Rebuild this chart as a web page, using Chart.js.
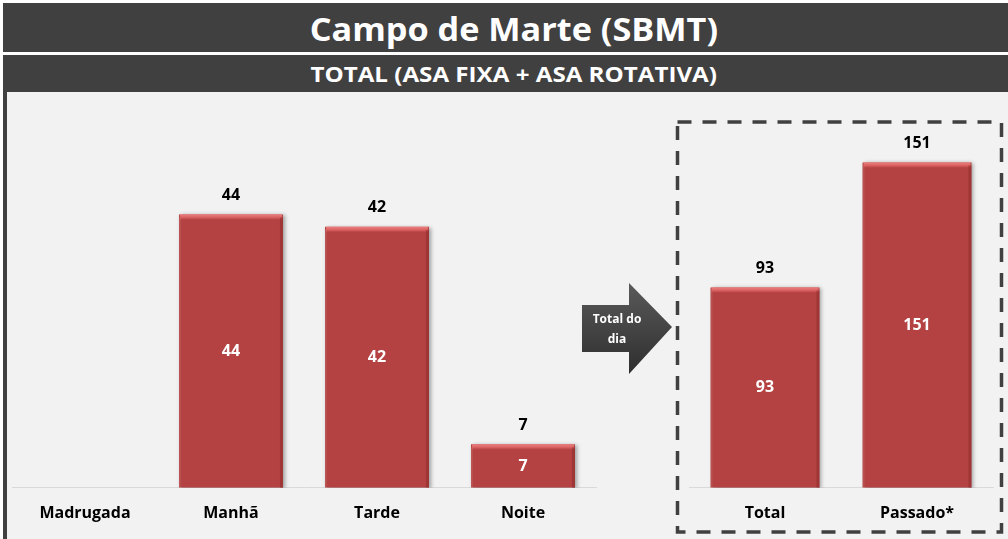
<!DOCTYPE html>
<html>
<head>
<meta charset="utf-8">
<script src="https://cdn.jsdelivr.net/npm/chart.js@4.4.0/dist/chart.umd.min.js"></script>
<style>
  body { margin: 0; background: #ffffff; width: 1008px; height: 539px; overflow: hidden; position: relative; }
  .bar1, .bar2 { position: absolute; left: 3px; width: 989px; padding-left: 16px; background: #404040; color: #ffffff;
                 font-family: "Open Sans", sans-serif; font-weight: bold; text-align: center; }
  .bar1 span, .bar2 span { display: inline-block; }
  .bar1 { top: 3px; height: 49px; line-height: 52px; font-size: 32px; }
  .bar1 span { transform: scaleX(1.07); }
  .bar2 { top: 55px; height: 37px; line-height: 38px; font-size: 21px; }
  .bar2 span { transform: scaleX(1.15); }
  .panel { position: absolute; left: 3px; top: 92px; width: 1001px; height: 447px; background: #f2f2f2; border-left: 4px solid #404040; }
  #leftWrap { position: absolute; left: 7px; top: 95px; width: 600px; height: 444px; }
  #rightWrap { position: absolute; left: 680px; top: 95px; width: 322px; height: 444px; }
  .arrow { position: absolute; left: 582px; top: 283px; width: 90px; height: 91px;
           background: linear-gradient(to bottom, #5a5a5a, #2e2e2e);
           clip-path: polygon(0 22px, 47px 22px, 47px 0, 90px 44px, 47px 91px, 47px 69px, 0 69px); }
  .arrowText { position: absolute; left: 582px; top: 309px; width: 70px; text-align: center; color: #ffffff;
               font-family: "Open Sans", sans-serif; font-weight: bold; font-size: 12px; line-height: 20px; }
  svg { position: absolute; left: 0; top: 0; }
</style>
</head>
<body>
<div class="bar1"><span>Campo de Marte (SBMT)</span></div>
<div class="bar2"><span>TOTAL (ASA FIXA + ASA ROTATIVA)</span></div>
<div class="panel"></div>
<div id="leftWrap"><canvas id="leftChart"></canvas></div>
<div id="rightWrap"><canvas id="rightChart"></canvas></div>
<div class="arrow"></div>
<div class="arrowText">Total do<br>dia</div>
<svg width="1008" height="539">
  <rect x="677.5" y="122" width="324" height="410" fill="none" stroke="#404040" stroke-width="3.5" stroke-dasharray="14 11"></rect>
</svg>
<script>
// periodos do dia
var periodLabels = ['Madrugada', 'Manhã', 'Tarde', 'Noite'];
var periodValues = [0, 44, 42, 7];

// total do dia x passado
var totalLabels = ['Total', 'Passado*'];
var totalValues = [93, 151];

var barColor = '#b44242';
var labelFont = { family: '"Open Sans", sans-serif', size: 16, weight: 'bold' };

// sombra + brilho no topo das barras, e os rotulos
var barStyle = {
    id: 'barStyle',
    beforeDatasetDraw: function (chart) {
        var ctx = chart.ctx;
        ctx.save();
        ctx.shadowColor = 'rgba(0,0,0,0.35)';
        ctx.shadowBlur = 4;
        ctx.shadowOffsetX = 2;
        ctx.shadowOffsetY = 1;
    },
    afterDatasetDraw: function (chart) {
        var ctx = chart.ctx;
        ctx.restore();
        var meta = chart.getDatasetMeta(0);
        var values = chart.data.datasets[0].data;
        meta.data.forEach(function (bar, i) {
            if (!values[i]) return;
            var left = bar.x - bar.width / 2;
            var h = bar.base - bar.y;
            ctx.save();
            var g = ctx.createLinearGradient(0, bar.y, 0, bar.y + 6);
            g.addColorStop(0, '#ef8080');
            g.addColorStop(0.6, '#d45a5a');
            g.addColorStop(1, 'rgba(180,66,66,0)');
            ctx.fillStyle = g;
            ctx.fillRect(left + 1, bar.y, bar.width - 2, 6);
            ctx.fillStyle = 'rgba(120,30,30,0.35)';
            ctx.fillRect(left + bar.width - 3, bar.y + 3, 3, h - 3);
            ctx.fillStyle = 'rgba(255,255,255,0.08)';
            ctx.fillRect(left, bar.y + 3, 2, h - 3);

            ctx.font = 'bold 16px "Open Sans", sans-serif';
            ctx.textAlign = 'center';
            ctx.textBaseline = 'middle';
            ctx.fillStyle = '#000000';
            ctx.fillText(values[i], bar.x, bar.y - 19);
            ctx.fillStyle = '#ffffff';
            ctx.fillText(values[i], bar.x, (bar.y + bar.base) / 2);
            ctx.restore();
        });
    }
};

function makeChart(id, labels, values, yMax, pad, barPct) {
    var ctx = document.getElementById(id).getContext('2d');
    return new Chart(ctx, {
        type: 'bar',
        data: {
            labels: labels,
            datasets: [{
                data: values,
                backgroundColor: barColor,
                borderWidth: 0,
                categoryPercentage: 1,
                barPercentage: barPct
            }]
        },
        options: {
            responsive: true,
            maintainAspectRatio: false,
            animation: false,
            layout: { padding: pad },
            plugins: { legend: { display: false }, tooltip: { enabled: false } },
            scales: {
                x: {
                    grid: { display: false, drawTicks: false, tickLength: 0 },
                    border: { display: true, color: '#d9d9d9', width: 1 },
                    ticks: { color: '#000000', font: labelFont, padding: 16 }
                },
                y: {
                    display: false,
                    min: 0,
                    max: yMax
                }
            }
        },
        plugins: [barStyle]
    });
}

makeChart('leftChart', periodLabels, periodValues, 60, { left: 5, right: 11, top: 20, bottom: 0 }, 0.712);
makeChart('rightChart', totalLabels, totalValues, 180, { left: 9, right: 9, top: 5, bottom: 0 }, 0.717);
</script>
</body>
</html>
